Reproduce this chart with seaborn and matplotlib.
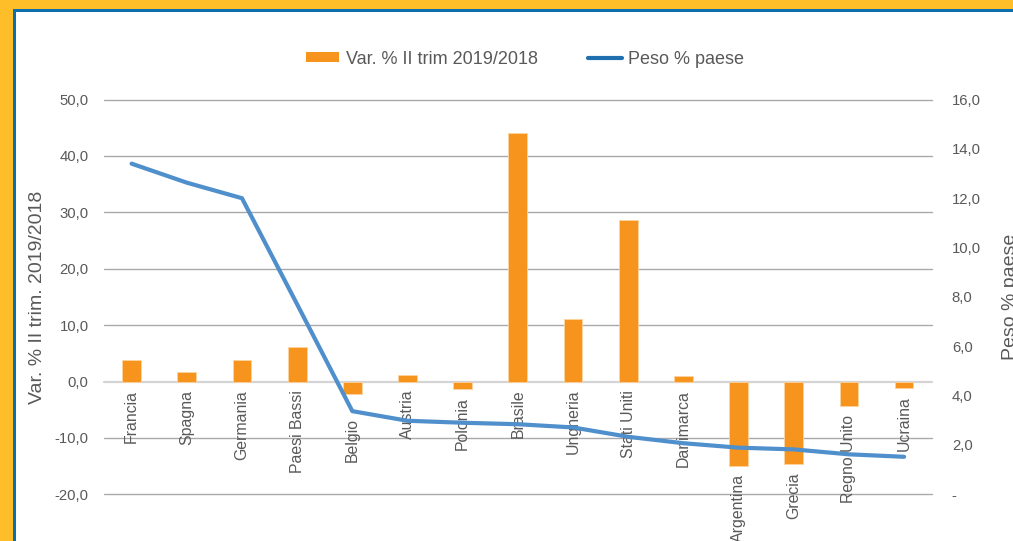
import matplotlib
matplotlib.use("Agg")
import matplotlib.pyplot as plt
import seaborn as sns
import pandas as pd
import numpy as np
from matplotlib.patches import Patch, Rectangle
from matplotlib.lines import Line2D
from matplotlib.ticker import FuncFormatter, FixedLocator

# ---- data ----
paesi = ["Francia", "Spagna", "Germania", "Paesi Bassi", "Belgio", "Austria",
         "Polonia", "Brasile", "Ungheria", "Stati Uniti", "Danimarca",
         "Argentina", "Grecia", "Regno Unito", "Ucraina"]
var_pct = [3.8, 1.7, 3.8, 6.1, -2.2, 1.2, -1.3, 44.1, 11.1, 28.6, 1.0,
           -14.9, -14.6, -4.4, -1.1]
peso_pct = [13.4, 12.63, 12.0, 7.7, 3.37, 2.98, 2.9, 2.84, 2.71, 2.33, 2.07,
            1.89, 1.82, 1.62, 1.52]
left_ticks = [-20, -10, 0, 10, 20, 30, 40, 50]
right_ticks = [0, 2, 4, 6, 8, 10, 12, 14, 16]
bar_label = "Var. % II trim 2019/2018"
line_label = "Peso % paese"
left_title = "Var. % II trim. 2019/2018"
right_title = "Peso % paese"

df = pd.DataFrame({"paese": paesi, "var": var_pct, "peso": peso_pct})

# ---- style ----
sns.set_style("white")
plt.rcParams["font.family"] = ["Liberation Sans", "DejaVu Sans"]
TXT = "#595959"
ORANGE = "#F7941D"
LINE_BLUE = "#4F8FCB"
LEG_BLUE = "#1F6EAD"

fig = plt.figure(figsize=(10.13, 5.41), dpi=100)
fig.patch.set_facecolor("white")

# frame (yellow border with a thin blue inner rule)
W, H = 1013.0, 541.0
fig.patches.append(Rectangle((0, 0), 13 / W, 1, transform=fig.transFigure,
                             facecolor="#FDBE2A", edgecolor="none", zorder=0))
fig.patches.append(Rectangle((0, 1 - 9 / H), 1, 9 / H, transform=fig.transFigure,
                             facecolor="#FDBE2A", edgecolor="none", zorder=0))
fig.patches.append(Rectangle((13 / W, 0), 3 / W, 1 - 9 / H, transform=fig.transFigure,
                             facecolor="#0B6FAE", edgecolor="none", zorder=0))
fig.patches.append(Rectangle((13 / W, 1 - 12 / H), 1 - 13 / W, 3 / H,
                             transform=fig.transFigure,
                             facecolor="#0B6FAE", edgecolor="none", zorder=0))

ax = fig.add_axes([104 / W, 46.7 / H, 827.7 / W, 394.8 / H])
ax.set_facecolor("none")

sns.barplot(data=df, x="paese", y="var", ax=ax, color=ORANGE, width=0.34,
            saturation=1, edgecolor="#FCD3A0", linewidth=0.6, zorder=3)

ax.set_ylim(-20, 50)
ax.set_xlim(-0.5, len(paesi) - 0.5)
ax.yaxis.set_major_locator(FixedLocator(left_ticks))
ax.yaxis.set_major_formatter(FuncFormatter(lambda v, p: f"{v:.1f}".replace(".", ",")))
ax.tick_params(axis="y", length=0, pad=11, labelsize=10.7, labelcolor=TXT)
ax.set_xticks([])
ax.set_xlabel("")
ax.set_ylabel(left_title, fontsize=14, color=TXT, labelpad=6)
for s in ax.spines.values():
    s.set_visible(False)
for t in left_ticks:
    if t == 0:
        ax.axhline(t, color="#D4D4D4", lw=1.6, zorder=2, clip_on=False)
    else:
        ax.axhline(t, color="#A9A9A9", lw=1.0, zorder=1, clip_on=False)

# category labels below zero line / below negative bars
label_nudge = {"Belgio": 11}
for i, (name, v) in enumerate(zip(paesi, var_pct)):
    ax.annotate(name, xy=(i, min(0, v)), xytext=(0, -6 - label_nudge.get(name, 0)),
                textcoords="offset points", rotation=90, ha="center", va="top",
                fontsize=11.4, color=TXT, zorder=5, annotation_clip=False)

# secondary axis with line
ax2 = ax.twinx()
sns.lineplot(data=df, x="paese", y="peso", ax=ax2, color=LINE_BLUE, lw=3,
             sort=False, zorder=4)
ax2.set_ylim(0, 16)
ax2.set_xlim(-0.5, len(paesi) - 0.5)
ax2.yaxis.set_major_locator(FixedLocator(right_ticks))
ax2.yaxis.set_major_formatter(FuncFormatter(
    lambda v, p: "-" if v == 0 else f"{v:.1f}".replace(".", ",")))
ax2.tick_params(axis="y", length=0, pad=14.5, labelsize=10.7, labelcolor=TXT)
ax2.set_ylabel(right_title, fontsize=14, color=TXT, labelpad=15)
ax2.set_xlabel("")
for s in ax2.spines.values():
    s.set_visible(False)
ax2.grid(False)

handles = [Patch(facecolor=ORANGE, edgecolor="none"),
           Line2D([0], [0], color=LEG_BLUE, lw=3)]
fig.legend(handles, [bar_label, line_label], loc="center",
           bbox_to_anchor=(525 / W, 1 - 59 / H), ncol=2, frameon=False,
           fontsize=13, labelcolor=TXT, handlelength=1.85, handleheight=0.4,
           handletextpad=0.35, columnspacing=2.8)

fig.savefig("out.png", dpi=100)
